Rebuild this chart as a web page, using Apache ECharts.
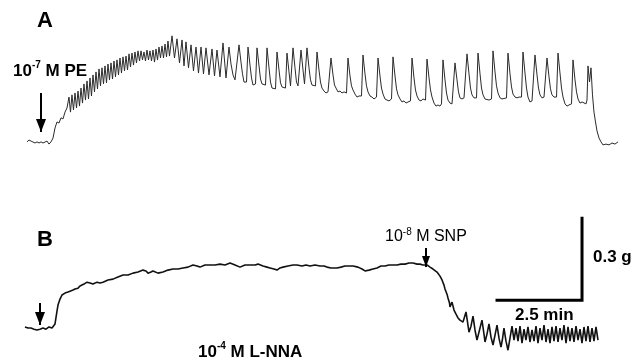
<!DOCTYPE html>
<html><head><meta charset="utf-8">
<script src="https://cdn.jsdelivr.net/npm/echarts@6/dist/echarts.min.js"></script>
<style>html,body{margin:0;padding:0;background:#fff}#c{width:644px;height:364px}</style>
</head><body><div id="c"></div>
<script>
// Trace A: [time (min), tension (g)] — 10^-7 M PE
const traceA = [
[0,.004],[.059,.011],[.118,.007],[.176,.004],[.235,0],[.294,.004],[.353,0],[.412,.004],[.471,0],[.529,0],[.588,.007],[.647,-.004],[.706,.004],[.765,.018],[.824,.055],[.882,.077],[.941,.073],[1,.092],[1.059,.088],[1.118,.113],[1.176,.128],
[1.235,.168],[1.279,.113],[1.323,.176],[1.367,.121],[1.412,.183],[1.456,.128],[1.5,.19],[1.544,.135],[1.588,.201],[1.632,.146],[1.676,.216],[1.72,.157],[1.765,.227],[1.809,.161],[1.853,.238],[1.897,.172],[1.941,.249],[1.985,.187],[2.029,.26],[2.073,.198],[2.118,.271],[2.162,.209],[2.206,.275],[2.25,.216],[2.294,.282],[2.338,.22],[2.382,.289],[2.426,.231],[2.471,.293],[2.515,.234],[2.559,.3],[2.603,.242],[2.647,.304],[2.691,.249],[2.735,.311],[2.779,.256],[2.824,.315],[2.868,.264],[2.912,.318],[2.956,.267],[3,.326],[3.044,.278],[3.088,.329],[3.132,.285],[3.176,.333],[3.22,.293],[3.265,.337],[3.309,.3],[3.353,.337],[3.397,.304],[3.441,.333],[3.485,.3],[3.529,.34],[3.573,.304],[3.618,.337],[3.662,.3],[3.706,.34],[3.75,.296],[3.794,.344],[3.838,.304],[3.882,.351],[3.926,.311],[3.971,.355],[4.015,.311],[4.059,.362],[4.103,.315],[4.147,.373],[4.191,.318],
[4.265,.392],[4.338,.311],[4.412,.381],[4.485,.293],[4.559,.377],[4.618,.282],[4.676,.37],[4.75,.275],[4.824,.359],[4.897,.264],[4.971,.351],[5.044,.256],[5.118,.351],[5.191,.253],[5.265,.348],[5.353,.249],[5.441,.344],[5.515,.245],[5.588,.34],[5.676,.242],[5.765,.366],[5.853,.238],[5.941,.351],[6,.289],[6.059,.249],[6.118,.231],
[6.176,.227],[6.235,.359],[6.294,.296],[6.338,.253],[6.382,.223],[6.456,.223],[6.5,.351],[6.559,.285],[6.603,.238],[6.647,.212],[6.721,.216],[6.765,.348],[6.824,.282],[6.868,.234],[6.912,.216],[7.015,.212],[7.059,.348],[7.118,.275],[7.162,.223],[7.206,.201],[7.25,.194],[7.309,.198],[7.353,.333],[7.412,.267],[7.456,.22],[7.5,.205],[7.544,.201],[7.603,.201],[7.647,.329],[7.706,.26],[7.75,.209],[7.779,.205],[7.824,.348],[7.882,.275],[7.926,.223],[7.971,.209],[8.015,.212],[8.059,.34],[8.118,.267],[8.162,.216],[8.191,.212],[8.235,.348],[8.294,.275],[8.338,.231],[8.382,.212],[8.426,.209],[8.485,.209],[8.529,.333],[8.588,.267],[8.632,.223],[8.676,.201],[8.735,.19],[8.794,.183],[8.853,.187],[8.897,.183],
[8.941,.311],[9,.249],[9.044,.212],[9.088,.201],[9.147,.187],[9.206,.19],[9.265,.183],[9.324,.187],[9.397,.183],[9.441,.311],[9.5,.245],[9.544,.209],[9.588,.194],[9.647,.179],[9.706,.168],[9.765,.172],[9.838,.172],[9.882,.322],[9.941,.253],[9.985,.209],[10.029,.187],[10.088,.172],[10.147,.168],[10.206,.161],[10.279,.168],[10.324,.311],[10.382,.245],[10.426,.201],[10.471,.179],[10.529,.161],[10.588,.157],[10.647,.154],[10.721,.161],[10.765,.315],[10.824,.245],[10.868,.198],[10.912,.176],[10.971,.161],[11.029,.15],[11.088,.154],[11.147,.146],[11.206,.15],[11.279,.154],
[11.324,.311],[11.382,.238],[11.426,.194],[11.471,.172],[11.529,.157],[11.588,.154],[11.647,.161],[11.721,.157],[11.765,.307],[11.824,.238],[11.868,.194],[11.912,.168],[11.971,.146],[12.029,.135],[12.088,.139],[12.147,.135],[12.191,.143],[12.235,.304],[12.294,.231],[12.338,.183],[12.382,.157],[12.441,.146],[12.5,.143],[12.544,.146],[12.588,.293],[12.647,.231],[12.691,.187],[12.735,.165],[12.794,.161],[12.853,.165],[12.897,.168],[12.941,.326],[13,.253],[13.044,.201],[13.088,.176],[13.147,.165],[13.221,.165],[13.265,.329],[13.324,.253],[13.368,.201],[13.412,.176],[13.471,.161],[13.529,.154],[13.588,.157],[13.662,.161],
[13.706,.337],[13.765,.26],[13.809,.209],[13.853,.183],[13.912,.165],[13.971,.161],[14.029,.165],[14.103,.165],[14.147,.329],[14.206,.253],[14.25,.205],[14.294,.179],[14.353,.168],[14.412,.165],[14.471,.168],[14.544,.168],[14.588,.333],[14.647,.256],[14.691,.201],[14.735,.168],[14.794,.15],[14.853,.154],[14.897,.154],[14.941,.322],[15,.249],[15.044,.201],[15.088,.176],[15.147,.165],[15.206,.168],[15.25,.165],[15.294,.311],[15.353,.242],[15.397,.198],[15.441,.176],[15.5,.168],[15.574,.168],[15.618,.329],[15.676,.256],[15.721,.201],[15.765,.168],[15.824,.143],[15.882,.135],[15.941,.139],[16.015,.143],
[16.059,.304],[16.118,.231],[16.162,.187],[16.206,.161],[16.265,.146],[16.324,.15],[16.382,.146],[16.441,.143],[16.471,.157],[16.5,.282],[16.544,.223],[16.588,.275],[16.632,.176],[16.676,.113],[16.721,.077],[16.765,.044],[16.824,.018],[16.882,.004],[16.941,-.007],[17.029,-.004],[17.118,-.007],[17.206,0],[17.294,-.004],[17.382,.004]
];

// Trace B: [time (min), tension (g)] — 10^-4 M L-NNA, then 10^-8 M SNP
const traceB = [
[-.059,.004],[.029,0],[.118,0],[.206,-.004],[.294,-.007],[.382,-.004],[.471,0],[.559,-.004],[.647,.004],[.735,0],[.779,-.004],
[.824,.015],[.882,.062],[.912,.084],[.971,.106],[1.029,.121],[1.118,.128],[1.206,.132],[1.265,.135],[1.353,.139],[1.412,.143],[1.5,.146],[1.559,.154],[1.676,.161],[1.765,.168],[1.853,.165],[1.941,.161],[2.059,.168],[2.147,.165],[2.235,.168],[2.382,.176],[2.529,.179],[2.676,.187],[2.824,.194],[2.971,.194],[3.118,.201],[3.265,.205],[3.412,.212],[3.5,.209],[3.559,.201],[3.647,.205],[3.706,.209],[3.853,.201],[4,.205],[4.147,.212],[4.294,.216],[4.441,.216],[4.588,.22],[4.735,.223],[4.882,.231],[5,.227],[5.088,.223],[5.235,.231],[5.382,.231],[5.529,.231],[5.676,.234],[5.824,.231],[5.971,.238],[6.118,.231],[6.265,.223],[6.412,.231],[6.559,.231],[6.706,.231],[6.794,.234],[6.941,.227],[7.059,.223],[7.147,.22],[7.265,.216],[7.353,.212],[7.441,.22],[7.529,.223],[7.676,.227],[7.824,.231],[7.941,.231],[8.088,.227],[8.206,.231],[8.324,.227],[8.471,.231],[8.618,.227],[8.735,.227],[8.824,.223],[8.941,.22],[9.029,.22],[9.118,.22],[9.235,.223],[9.353,.227],[9.471,.227],[9.588,.227],[9.735,.223],[9.853,.216],[9.941,.209],[10.059,.212],[10.176,.216],[10.294,.22],[10.412,.227],[10.529,.227],[10.647,.231],[10.765,.231],[10.882,.231],[11,.234],[11.118,.234],[11.235,.238],[11.353,.238],[11.471,.234],[11.559,.234],[11.647,.231],[11.765,.231],[11.853,.223],[11.941,.216],
[12.059,.205],[12.147,.19],[12.206,.176],[12.265,.157],[12.294,.143],[12.353,.124],[12.382,.11],[12.426,.092],[12.441,.077],[12.5,.095],[12.559,.066],[12.618,.051],[12.676,.037],[12.735,.029],[12.824,.022],[12.912,.059],[13,-.015],[13.059,.007],[13.118,.044],[13.176,-.007],[13.235,-.044],[13.324,0],[13.382,.029],[13.441,-.022],[13.471,-.051],[13.529,-.022],[13.588,.015],[13.647,-.033],[13.706,-.062],[13.765,-.026],[13.824,.011],[13.882,-.037],[13.941,-.07],[13.985,-.04],[14.029,0],[14.088,-.048],[14.147,-.081],[14.206,-.037],[14.265,.007],[14.324,-.044],
[14.382,0],[14.441,-.048],[14.5,.007],[14.559,-.055],[14.618,-.004],[14.676,-.044],[14.735,.004],[14.794,-.051],[14.853,-.007],[14.912,-.048],[14.971,.007],[15.029,-.055],[15.088,0],[15.147,-.044],[15.206,.011],[15.265,-.051],[15.324,-.004],[15.382,-.055],[15.441,.004],[15.5,-.048],[15.559,.007],[15.618,-.051],[15.676,0],[15.735,-.044],[15.794,.011],[15.853,-.055],[15.912,.004],[15.971,-.048],[16.029,0],[16.088,-.051],[16.147,.007],[16.206,-.044],[16.265,-.004],[16.324,-.055],[16.382,.004],[16.441,-.048],[16.5,.007],[16.559,-.051],[16.618,0],[16.676,-.048],[16.735,.004],[16.794,-.044]
];

// Drug additions: [time (min), arrow top (g), arrow tip (g)]
const arrowA = [0.412, 0.183, 0.040];
const arrowB = [0.382, 0.092, 0.011];
const arrowSNP = [11.735, 0.293, 0.223];
// Scale bar: 2.5 min by 0.3 g, corner at [time, tension] in panel B
const scaleTime = 2.5;
const scaleForce = 0.3;
const scaleCorner = [16.324, 0.102];

const FONT = '"Liberation Sans", Arial, Helvetica, sans-serif';

function arrowPair(a, w, h) {
  return [
    {coord: [a[0], a[1]], symbol: 'none'},
    {coord: [a[0], a[2]], symbol: 'triangle', symbolSize: [w, h], symbolOffset: [0, h / 2]}
  ];
}
function arrowMark(pairs) {
  return {
    silent: true, animation: false,
    symbol: ['none', 'triangle'],
    lineStyle: {color: '#000', width: 2, type: 'solid'},
    label: {show: false},
    emphasis: {disabled: true},
    data: pairs
  };
}

function label(x, y, text, bold, size) {
  const weight = bold ? 'bold' : 'normal';
  return {
    type: 'text', x: x, y: y, silent: true,
    style: {
      text: text,
      fontSize: size, fontWeight: weight, fontFamily: FONT,
      fill: '#000', align: 'left', verticalAlign: 'middle',
      lineHeight: size + 4,
      rich: {
        s: {fontSize: 10, fontWeight: weight, fontFamily: FONT, verticalAlign: 'top', lineHeight: 10, fill: '#000'}
      }
    }
  };
}

const chart = echarts.init(document.getElementById('c'), null, {renderer: 'canvas'});
chart.setOption({
  animation: false,
  backgroundColor: '#fff',
  grid: [
    {left: 10, top: 20, width: 629, height: 136.65},
    {left: 10, top: 150.4, width: 629, height: 205.0}
  ],
  xAxis: [
    {type: 'value', gridIndex: 0, min: -0.5, max: 18, show: false},
    {type: 'value', gridIndex: 1, min: -0.5, max: 18, show: false}
  ],
  yAxis: [
    {type: 'value', gridIndex: 0, min: -0.05, max: 0.45, show: false},
    {type: 'value', gridIndex: 1, min: -0.1, max: 0.65, show: false}
  ],
  series: [
    {
      type: 'line', xAxisIndex: 0, yAxisIndex: 0, data: traceA,
      symbol: 'none', smooth: false, clip: false,
      lineStyle: {color: '#2b2b2b', width: 1},
      markLine: arrowMark([arrowPair(arrowA, 10, 13)])
    },
    {
      type: 'line', xAxisIndex: 1, yAxisIndex: 1, data: traceB,
      symbol: 'none', smooth: false, clip: false,
      lineStyle: {color: '#111', width: 1.6},
      markLine: arrowMark([arrowPair(arrowB, 10, 13), arrowPair(arrowSNP, 8, 11)])
    },
    {
      type: 'line', xAxisIndex: 1, yAxisIndex: 1, symbol: 'none', silent: true,
      data: [
        [scaleCorner[0] - scaleTime, scaleCorner[1]],
        [scaleCorner[0], scaleCorner[1]],
        [scaleCorner[0], scaleCorner[1] + scaleForce]
      ],
      lineStyle: {color: '#000', width: 3, join: 'miter', cap: 'square'}
    }
  ],
  graphic: [
    label(37, 21, 'A', true, 22),
    label(37, 240, 'B', true, 22),
    label(13, 71, '10{s|-7} M PE', true, 17),
    label(198, 352, '10{s|-4} M L-NNA', true, 17),
    label(385, 237, '10{s|-8} M SNP', false, 16),
    label(593, 257, '0.3 g', true, 17),
    label(515, 315, '2.5 min', true, 17)
  ]
});
</script>
</body></html>
